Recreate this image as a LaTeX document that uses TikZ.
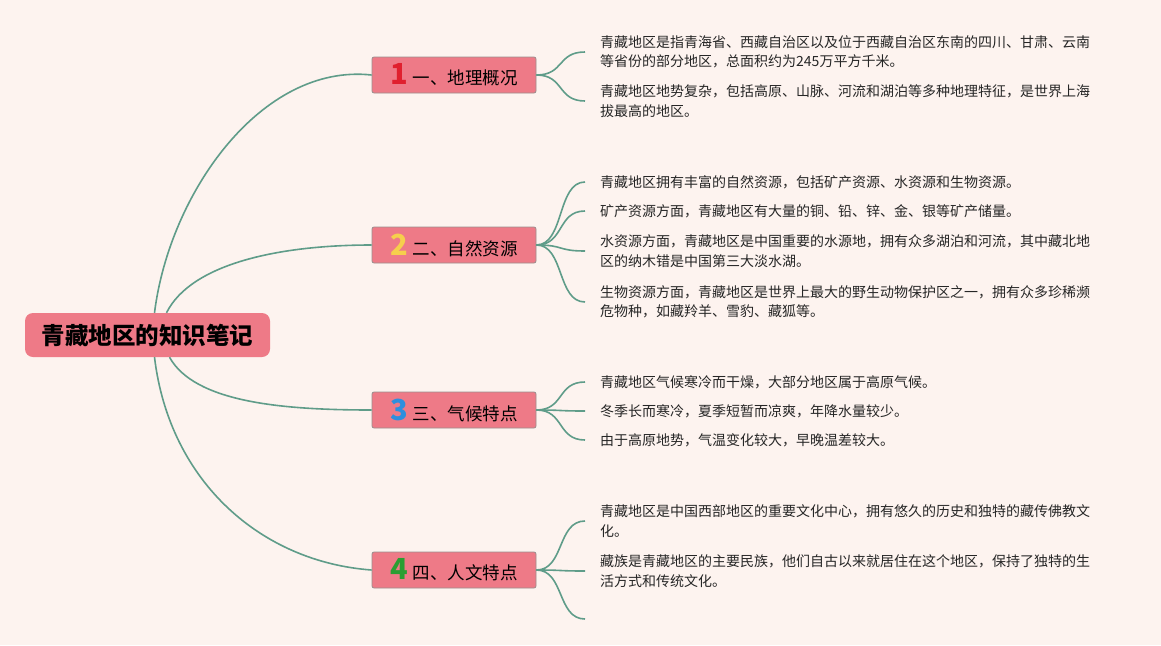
\documentclass[tikz,border=0pt]{standalone}
\usepackage{fontspec}
\setmainfont{Noto Sans CJK SC}
\definecolor{paper}{HTML}{FDF3EF}
\definecolor{rootpink}{HTML}{EE7A87}
\definecolor{boxgray}{HTML}{9A8E8E}
\definecolor{linkgreen}{HTML}{5F9C89}
\definecolor{numred}{HTML}{E0202E}
\definecolor{numyellow}{HTML}{F6CF4C}
\definecolor{numblue}{HTML}{2E8FDE}
\definecolor{numgreen}{HTML}{2A9E32}
\newcommand{\topicnum}[2]{{\color{#1}\fontsize{29}{29}\selectfont\bfseries #2}\hspace{5pt}}

\begin{document}
\begin{tikzpicture}[x=1pt,y=-1pt,
    rootbox/.style={fill=rootpink, rounded corners=8pt, minimum width=245pt, minimum height=44pt, inner sep=0pt, font=\fontsize{23.5}{28}\selectfont\bfseries},
    topicbox/.style={fill=rootpink, draw=boxgray, line width=0.8pt, rounded corners=2pt, minimum width=164pt, minimum height=36pt, inner sep=0pt, font=\fontsize{17.5}{21}\selectfont},
    leafnote/.style={anchor=west, inner xsep=15pt, inner ysep=0pt, align=left, text=black!85, font=\fontsize{14}{19.5}\selectfont},
    link/.style={draw=linkgreen, line width=1.6pt}]
        \fill[paper] (0,0) rectangle (1161,645);
        \useasboundingbox (0,0) rectangle (1161,645);
        % Root and topics
        \node (root) at (147.5,335) [rootbox] {青藏地区的知识笔记};
        \node (t1) at (454,75) [topicbox] {\topicnum{numred}{1}一、地理概况};
        \node (t2) at (454,245) [topicbox] {\topicnum{numyellow}{2}二、自然资源};
        \node (t3) at (454,410) [topicbox] {\topicnum{numblue}{3}三、气候特点};
        \node (t4) at (454,570) [topicbox] {\topicnum{numgreen}{4}四、人文特点};
        % Notes
        \node (l11) at (585,52) [leafnote] {青藏地区是指青海省、西藏自治区以及位于西藏自治区东南的四川、甘肃、云南\\等省份的部分地区，总面积约为245万平方千米。};
        \node (l12) at (585,101) [leafnote] {青藏地区地势复杂，包括高原、山脉、河流和湖泊等多种地理特征，是世界上海\\拔最高的地区。};
        \node (l21) at (585,182) [leafnote] {青藏地区拥有丰富的自然资源，包括矿产资源、水资源和生物资源。};
        \node (l22) at (585,211) [leafnote] {矿产资源方面，青藏地区有大量的铜、铅、锌、金、银等矿产储量。};
        \node (l23) at (585,251) [leafnote] {水资源方面，青藏地区是中国重要的水源地，拥有众多湖泊和河流，其中藏北地\\区的纳木错是中国第三大淡水湖。};
        \node (l24) at (585,302) [leafnote] {生物资源方面，青藏地区是世界上最大的野生动物保护区之一，拥有众多珍稀濒\\危物种，如藏羚羊、雪豹、藏狐等。};
        \node (l31) at (585,382) [leafnote] {青藏地区气候寒冷而干燥，大部分地区属于高原气候。};
        \node (l32) at (585,411) [leafnote] {冬季长而寒冷，夏季短暂而凉爽，年降水量较少。};
        \node (l33) at (585,440) [leafnote] {由于高原地势，气温变化较大，早晚温差较大。};
        \node (l41) at (585,521) [leafnote] {青藏地区是中国西部地区的重要文化中心，拥有悠久的历史和独特的藏传佛教文\\化。};
        \node (l42) at (585,571) [leafnote] {藏族是青藏地区的主要民族，他们自古以来就居住在这个地区，保持了独特的生\\活方式和传统文化。};
        \coordinate (l43) at (585,619);
        % Root edges
        \draw[link] ([xshift=7pt]root.north) .. controls +(15,-120) and +(-110,-12) .. (t1.west);
        \draw[link] ([xshift=19pt]root.north) .. controls +(25,-50) and +(-90,0) .. (t2.west);
        \draw[link] ([xshift=22pt]root.south) .. controls +(25,45) and +(-90,0) .. (t3.west);
        \draw[link] ([xshift=7pt]root.south) .. controls +(15,125) and +(-110,-8) .. (t4.west);
        % Topic edges
        \foreach \t/\l in {t1/l11,t1/l12,t2/l21,t2/l22,t2/l23,t2/l24,t3/l31,t3/l32,t3/l33,t4/l41,t4/l42,t4/l43}
          \draw[link] (\t.east) .. controls +(28,0) and +(-28,0) .. (\l.west);
      \end{tikzpicture}
\end{document}
